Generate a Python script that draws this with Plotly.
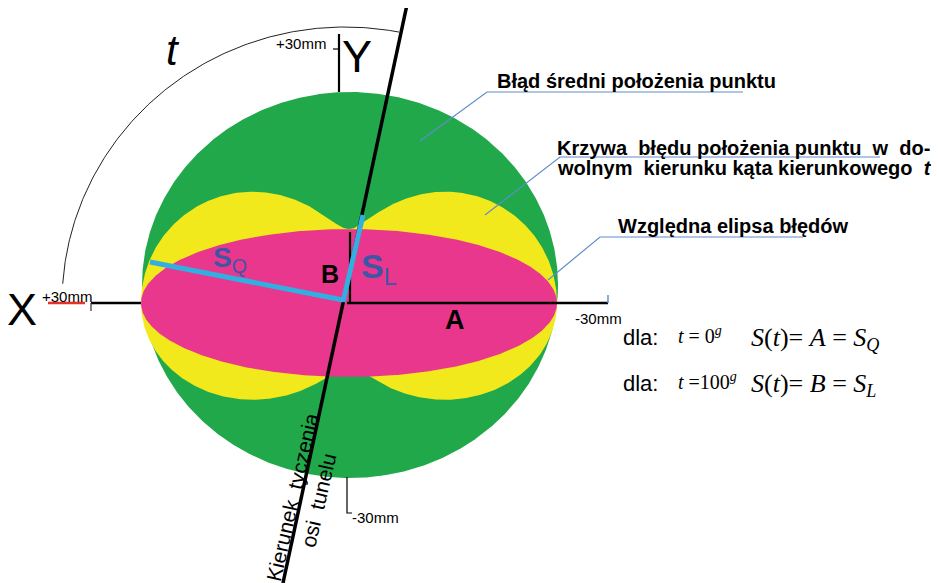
import numpy as np
import plotly.graph_objects as go

# ---- diagram parameters (pixel space of the 939x583 canvas) ----
W, H = 939, 583
PAGE_MARGIN = 8                   # default body margin of the written page
ORIGIN = [347, 303]               # intersection of X/Y axes
ELLIPSE_AB = [208, 74]            # semi-axes A, B of the relative error ellipse
PEDAL_LOWER_SCALE = 0.87          # lower lobes of the error curve drawn slightly flatter
CIRCLE_CENTER = [350, 285]
CIRCLE_R = [208, 193]
ARC_R = [283, 276]
ARC_DEG = [176, 79]
X_AXIS = [91, 141, 608]           # left tick, pink edge, right tick
Y_AXIS_TOP = [34, 92]
Y_AXIS_INNER = [232, 303]
Y_AXIS_BOTTOM = [477, 513]
DIR_LINE = [[408, 0], [283, 583]]  # Kierunek tyczenia
SQ_SEG = [[150, 262], [343, 300]]
SL_SEG = [[343, 302], [363, 215]]
LEADERS = [
    [[420, 141], [487, 92], [743, 92]],
    [[485, 215], [560, 157], [880, 157]],
    [[548, 280], [600, 237], [803, 237]],
]

GREEN = "#20a84a"
YELLOW = "#f1e91b"
PINK = "#e8378d"
CYAN = "#33aee0"
SBLUE = "#3e56a6"
LEAD = "#5f8ccb"

fig = go.Figure()

th = np.linspace(0, 2 * np.pi, 721)

# green circle (mean position error)
fig.add_trace(go.Scatter(
    x=CIRCLE_CENTER[0] + CIRCLE_R[0] * np.cos(th),
    y=CIRCLE_CENTER[1] - CIRCLE_R[1] * np.sin(th),
    fill="toself", fillcolor=GREEN, mode="lines", line=dict(width=0, color=GREEN),
    hoverinfo="skip"))

# yellow pedal curve S(t)
A, B = ELLIPSE_AB
r = np.sqrt(A ** 2 * np.cos(th) ** 2 + B ** 2 * np.sin(th) ** 2)
dy = r * np.sin(th)
dy = np.where(dy < 0, dy * PEDAL_LOWER_SCALE, dy)
fig.add_trace(go.Scatter(
    x=ORIGIN[0] + 2 + r * np.cos(th), y=ORIGIN[1] - dy,
    fill="toself", fillcolor=YELLOW, mode="lines", line=dict(width=0, color=YELLOW),
    hoverinfo="skip"))

# pink ellipse
fig.add_trace(go.Scatter(
    x=ORIGIN[0] + 2 + A * np.cos(th), y=ORIGIN[1] - B * np.sin(th),
    fill="toself", fillcolor=PINK, mode="lines", line=dict(width=0, color=PINK),
    hoverinfo="skip"))

def seg(xs, ys, color="black", width=2):
    fig.add_trace(go.Scatter(x=xs, y=ys, mode="lines",
                             line=dict(color=color, width=width), hoverinfo="skip"))

# arc t
ta = np.radians(np.linspace(ARC_DEG[0], ARC_DEG[1], 200))
seg(ORIGIN[0] - 2 + ARC_R[0] * np.cos(ta), ORIGIN[1] - ARC_R[1] * np.sin(ta), "#222", 1)

# X axis
oy = ORIGIN[1]
seg([X_AXIS[0], X_AXIS[1]], [oy, oy], "black", 2.5)
seg([ORIGIN[0], X_AXIS[2]], [oy, oy], "black", 2.5)
seg([X_AXIS[0], X_AXIS[0]], [oy, oy + 8], "#333", 1.2)
seg([X_AXIS[2], X_AXIS[2]], [oy, oy - 8], LEAD, 1.5)
seg([48, 85], [oy, oy], "#e8302a", 2.5)

# Y axis pieces
seg([339, 339], Y_AXIS_TOP, "black", 2.2)
seg([333, 339], [49, 49], "black", 1.2)
seg([350, 350], Y_AXIS_INNER, "black", 2.2)
seg([347, 347, 352], [Y_AXIS_BOTTOM[0], Y_AXIS_BOTTOM[1], Y_AXIS_BOTTOM[1]], "black", 1.2)

# direction line
seg([DIR_LINE[0][0], DIR_LINE[1][0]], [DIR_LINE[0][1], DIR_LINE[1][1]], "black", 3.5)

# S_Q and S_L segments
seg([SQ_SEG[0][0], SQ_SEG[1][0]], [SQ_SEG[0][1], SQ_SEG[1][1]], CYAN, 5)
seg([SL_SEG[0][0], SL_SEG[1][0]], [SL_SEG[0][1], SL_SEG[1][1]], CYAN, 5)

# leader lines
for L in LEADERS:
    seg([p[0] for p in L], [p[1] for p in L], LEAD, 1.2)

SANS = "Liberation Sans, Arial, sans-serif"
SERIF = "Liberation Serif, Times New Roman, serif"

def txt(x, y, s, size, color="black", family=SANS, xa="left", angle=0):
    fig.add_annotation(x=x, y=y, text=s, showarrow=False, xanchor=xa, yanchor="middle",
                       textangle=angle, font=dict(size=size, color=color, family=family))

txt(495, 81, "<b>Błąd średni położenia punktu</b>", 20)
txt(555, 148, "<b>Krzywa  błędu położenia punktu  w  do-</b>", 20)
txt(555, 168, "<b>wolnym  kierunku kąta kierunkowego  <i>t</i></b>", 20)
txt(616, 226, "<b>Względna elipsa błędów</b>", 20)

txt(22, 309, "X", 45, xa="center")
txt(340, 56, "Y", 45)
txt(164, 50, "<i>t</i>", 42)
txt(40, 296, "+30mm", 15)
txt(274, 43, "+30mm", 15)
txt(573, 318, "-30mm", 15)
txt(350, 517, "-30mm", 15)

txt(211, 259, "<b>S</b><sub>Q</sub>", 28, SBLUE)
txt(359, 268, "<b>S</b><sub>L</sub>", 34, SBLUE)
txt(319, 274, "<b>B</b>", 25)
txt(443, 320, "<b>A</b>", 27)

txt(621, 337, "dla:", 22)
txt(676, 335, "<i>t</i> = 0<sup><i>g</i></sup>", 20, family=SERIF)
txt(749, 339, "<i>S</i>(<i>t</i>)= <i>A</i> = <i>S</i><sub><i>Q</i></sub>", 26, family=SERIF)
txt(621, 383, "dla:", 22)
txt(676, 381, "<i>t</i> =100<sup><i>g</i></sup>", 20, family=SERIF)
txt(749, 385, "<i>S</i>(<i>t</i>)= <i>B</i> = <i>S</i><sub><i>L</i></sub>", 26, family=SERIF)

txt(292, 497, "Kierunek  tyczenia", 21, xa="center", angle=-77)
txt(318, 500, "osi  tunelu", 21, xa="center", angle=-77)

fig.update_layout(
    width=W, height=H, margin=dict(l=0, r=0, t=0, b=0),
    paper_bgcolor="white", plot_bgcolor="white", showlegend=False,
    xaxis=dict(range=[PAGE_MARGIN, W + PAGE_MARGIN], visible=False, fixedrange=True),
    yaxis=dict(range=[H + PAGE_MARGIN, PAGE_MARGIN], visible=False, fixedrange=True),
)
fig.write_html("out.html")
